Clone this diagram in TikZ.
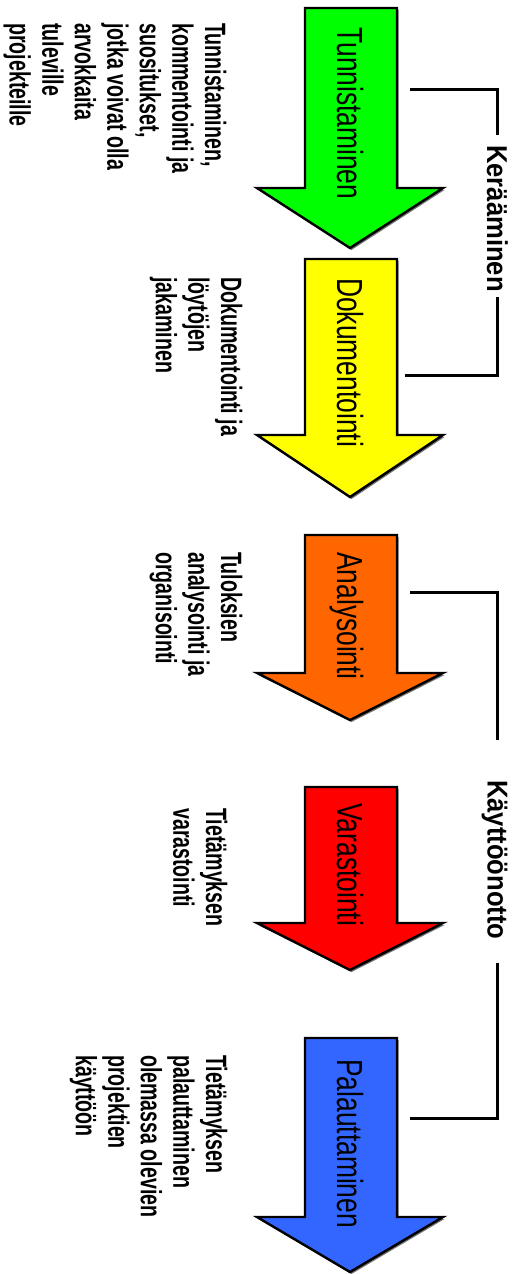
\documentclass[tikz,border=0pt]{standalone}
\usepackage{fontspec}
\setmainfont{Liberation Sans}
\usepackage{graphicx}
\usetikzlibrary{calc}
\definecolor{cgreen}{RGB}{0,255,0}
\definecolor{cyellow}{RGB}{255,255,0}
\definecolor{corange}{RGB}{255,102,0}
\definecolor{cred}{RGB}{255,0,0}
\definecolor{cblue}{RGB}{51,102,255}
\newcommand\vlines[1]{\vtop{\baselineskip=21.7pt\lineskiplimit=-100pt\lineskip=0pt\halign{##\hfil\cr#1\crcr}}}
\newcommand\downshape[4]{%
  \fill[black!55, shift={(1.5,2)}] (305,#1) -- (397,#1) -- (397,#2) -- (443,#2) -- (350,#3) -- (257,#2) -- (305,#2) -- cycle;
  \draw[arrowshape, fill=#4] (305,#1) -- (397,#1) -- (397,#2) -- (443,#2) -- (350,#3) -- (257,#2) -- (305,#2) -- cycle;}
\tikzset{
  arrowshape/.style={draw=black, line width=2.4pt, line join=miter},
  arrowlabel/.style={rotate=-90, anchor=base west, inner sep=0pt, font=\fontsize{26.4}{30}\selectfont},
  sidetext/.style={rotate=-90, anchor=base west, inner sep=0pt, font=\fontsize{19.6}{21.7}\selectfont\bfseries},
  grouplabel/.style={rotate=-90, anchor=west, inner sep=0pt, text depth=0pt, font=\fontsize{25.6}{28}\selectfont\bfseries},
  bracket/.style={line width=3pt, line join=miter}
}
\begin{document}
\begin{tikzpicture}[x=1pt,y=-1pt]
\useasboundingbox[fill=white] (0,0) rectangle (518,1274);

% arrows
\downshape{8}{188}{248}{cgreen}
\downshape{259}{435}{497}{cyellow}
\downshape{535}{673}{720}{corange}
\downshape{787}{923}{970}{cred}
\downshape{1038}{1217}{1272}{cblue}

% arrow labels
\node[arrowlabel] (a1) at (337,27) {\scalebox{1}[1.375]{Tunnistaminen}};
\node[arrowlabel] (a2) at (337,278) {\scalebox{1}[1.375]{Dokumentointi}};
\node[arrowlabel] (a3) at (337,552) {\scalebox{1}[1.375]{Analysointi}};
\node[arrowlabel] (a4) at (337,803) {\scalebox{1}[1.375]{Varastointi}};
\node[arrowlabel] (a5) at (337,1059) {\scalebox{1}[1.375]{Palauttaminen}};

% side texts
\node[sidetext] (s1) at (205,23) {\scalebox{1}[1.5]{\vlines{Tunnistaminen,\cr kommentointi ja\cr suositukset,\cr jotka voivat olla\cr arvokkaita\cr tuleville\cr projekteille}}};
\node[sidetext] (s2) at (221,277) {\scalebox{1}[1.5]{\vlines{Dokumentointi ja\cr löytöjen\cr jakaminen}}};
\node[sidetext] (s3) at (221,552) {\scalebox{1}[1.5]{\vlines{Tuloksien\cr analysointi ja\cr organisointi}}};
\node[sidetext] (s4) at (206,808) {\scalebox{1}[1.5]{\vlines{Tietämyksen\cr varastointi}}};
\node[sidetext] (s5) at (206,1055) {\scalebox{1}[1.5]{\vlines{Tietämyksen\cr palauttaminen\cr olemassa olevien\cr projektien\cr käyttöön}}};

% group labels and brackets
\node[grouplabel] (kl) at (497.5,145) {\scalebox{1}[1.12]{Kerääminen}};
\node[grouplabel] (cl) at (497.5,780) {\scalebox{1}[1.12]{Käyttöönotto}};

\coordinate (kt) at (410,89);
\coordinate (kb) at (405,375);
\coordinate (ct) at (410,592);
\coordinate (cb) at (410,1118);
\draw[bracket] (kt) -| ($(kl.west)+(0,-10)$);
\draw[bracket] ($(kl.east)+(0,5)$) |- (kb);
\draw[bracket] (ct) -| ($(cl.west)+(0,-40)$);
\draw[bracket] ($(cl.east)+(0,23)$) |- (cb);
\end{tikzpicture}
\end{document}
